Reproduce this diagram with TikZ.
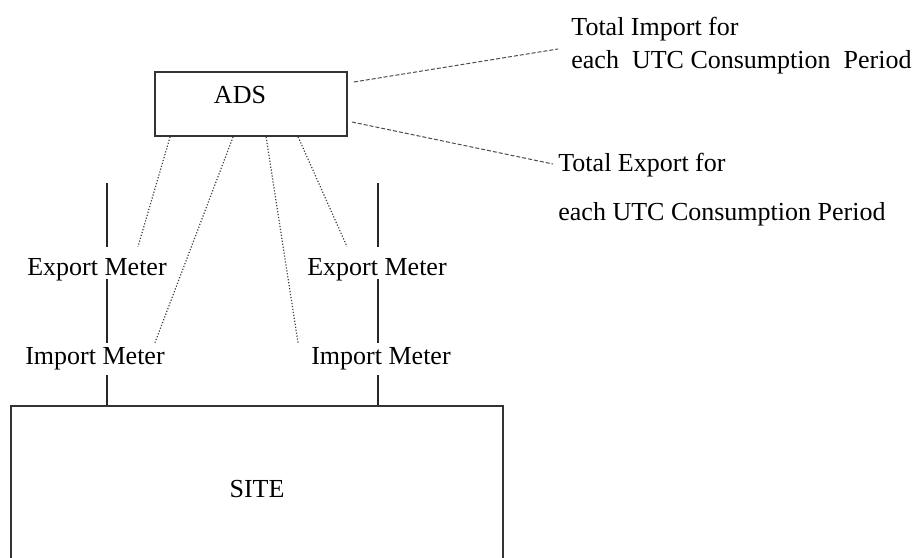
\documentclass[tikz,border=0pt]{standalone}
\usepackage{fontspec}
\setmainfont{Liberation Serif}
\usetikzlibrary{calc}

\begin{document}
\begin{tikzpicture}[x=0.5pt, y=-0.5pt,
    every node/.style={font=\fontsize{13}{16}\selectfont},
    box/.style={rectangle, draw=black!80, line width=0.9pt},
    upper/.style={inner sep=0pt, text height=14pt, text depth=2pt},
    lower/.style={inner sep=0pt, text height=10.5pt, text depth=5.5pt},
    total/.style={anchor=north west, inner sep=0pt, align=left},
    wire/.style={line width=0.8pt, black!85},
    feed/.style={dash pattern=on 0.6pt off 0.9pt, line width=0.6pt, black!75},
    link/.style={dash pattern=on 2pt off 1pt, line width=0.5pt, black!70}]
    \useasboundingbox (0,0) rectangle (920,557);
    \clip (0,0) rectangle (920,557);

    \node[box, minimum width=96pt, minimum height=32pt] (ads) at (251,104) {\raisebox{9pt}{ADS}\hspace*{11pt}};
    \node[box, minimum width=246pt, minimum height=83pt] (site) at (257,489) {SITE};

    \node[upper] (expL) at (97,263) {Export Meter};
    \node[lower] (impL) at (95,359) {Import Meter};
    \node[upper] (expR) at (377,263) {Export Meter};
    \node[lower] (impR) at (381,359) {Import Meter};

    \node[total] (totimp) at (571,17) {Total Import for\\[0.5pt] each\ \ UTC Consumption\ \ Period};
    \node[total] (totexp) at (558,153) {Total Export for\\[8.5pt] each UTC Consumption Period};

    \coordinate (topL) at (107,183);
    \coordinate (topR) at (378,183);

    \draw[wire] (topL) -- (topL |- expL.north);
    \draw[wire] (topL |- expL.south) -- (topL |- impL.north);
    \draw[wire] (topL |- impL.south) -- (topL |- site.north);
    \draw[wire] (topR) -- (topR |- expR.north);
    \draw[wire] (topR |- expR.south) -- (topR |- impR.north);
    \draw[wire] (topR |- impR.south) -- (topR |- site.north);

    \draw[feed] ([xshift=8pt]ads.south west) -- ([xshift=20.5pt]expL.north);
    \draw[feed] ([xshift=39.5pt]ads.south west) -- ([xshift=30pt]impL.north);
    \draw[feed] ([xshift=56pt]ads.south west) -- ([xshift=-41.5pt]impR.north);
    \draw[feed] ([xshift=72pt]ads.south west) -- ([xshift=-15pt]expR.north);

    \draw[link] ([xshift=3pt, yshift=11pt]ads.east) -- ([xshift=-6.5pt, yshift=-16pt]totimp.north west);
    \draw[link] ([xshift=2pt, yshift=-9pt]ads.east) -- ([xshift=-2.5pt, yshift=-5.5pt]totexp.north west);
\end{tikzpicture}
\end{document}
